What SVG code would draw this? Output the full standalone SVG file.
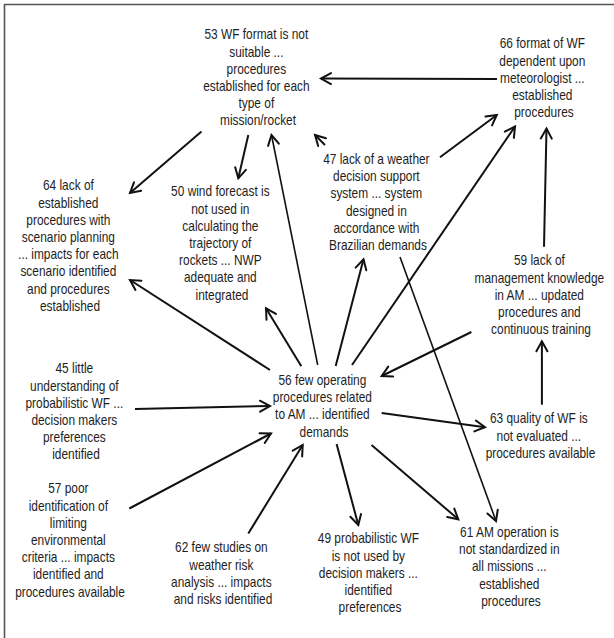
<svg xmlns="http://www.w3.org/2000/svg" width="614" height="638" viewBox="0 0 614 638">
  <defs>
    <marker id="arrow" markerUnits="userSpaceOnUse" markerWidth="16" markerHeight="16" viewBox="-12 -8 14 16" refX="0" refY="0" orient="auto">
      <path d="M-10,-5.5 L0,0 L-10,5.5" fill="none" stroke="#111" stroke-width="2" stroke-linejoin="miter" stroke-linecap="round"/>
    </marker>
    <style>
      .frame { fill: none; stroke: #555; stroke-width: 1.6; }
      .edge { fill: none; stroke: #111; stroke-width: 2; marker-end: url(#arrow); }
      .thin { stroke-width: 1.6; }
      .lbl { font-family: "Liberation Sans", Arial, sans-serif; font-size: 14px; fill: #1e1e1e; text-anchor: middle; }
    </style>
  </defs>

  <rect x="0" y="0" width="614" height="638" fill="#ffffff"/>
  <path class="frame" d="M4.5,638 V4.5 H614"/>

  <!-- connectors -->
  <g id="connectors">
    <line class="edge" x1="497" y1="79" x2="321" y2="78.5"/>
    <line class="edge" x1="201.5" y1="131.5" x2="130" y2="193"/>
    <line class="edge" x1="248.3" y1="135" x2="238.3" y2="178.3"/>
    <line class="edge thin" x1="317.7" y1="365" x2="271.5" y2="135"/>
    <line class="edge" x1="301.3" y1="366.3" x2="266" y2="308.3"/>
    <line class="edge" x1="335.7" y1="366" x2="363.5" y2="259.3"/>
    <line class="edge" x1="352" y1="365" x2="515" y2="126.5"/>
    <line class="edge" x1="270" y1="370" x2="130" y2="280"/>
    <line class="edge" x1="440" y1="157.3" x2="496.8" y2="115"/>
    <line class="edge thin" x1="400" y1="257" x2="496" y2="521"/>
    <line class="edge" x1="544" y1="246.7" x2="546.5" y2="128.5"/>
    <line class="edge" x1="471.4" y1="332" x2="381.7" y2="376"/>
    <line class="edge" x1="541.9" y1="404.7" x2="541.9" y2="341.3"/>
    <line class="edge" x1="135" y1="409" x2="270" y2="406"/>
    <line class="edge" x1="381.7" y1="413" x2="485" y2="427.3"/>
    <line class="edge" x1="129.3" y1="508.5" x2="271" y2="433.5"/>
    <line class="edge" x1="248.3" y1="533.5" x2="302.7" y2="445"/>
    <line class="edge" x1="336.6" y1="444" x2="358.3" y2="525"/>
    <line class="edge" x1="371.5" y1="445" x2="458.3" y2="519.3"/>
    <line class="edge" x1="325" y1="145" x2="315" y2="135"/>
  </g>

  <!-- nodes -->
  <g id="n53">
    <text class="lbl" transform="translate(258,0) scale(0.85,1)">
      <tspan x="0" y="39.5">53 WF format is not</tspan>
      <tspan x="0" y="56.7">suitable ...</tspan>
      <tspan x="0" y="73.9">procedures</tspan>
      <tspan x="0" y="91.1">established for each</tspan>
      <tspan x="0" y="108.3">type of</tspan>
      <tspan x="0" y="125.5">mission/rocket</tspan>
    </text>
  </g>
  <g id="n66">
    <text class="lbl" transform="translate(544,0) scale(0.85,1)">
      <tspan x="0" y="48.5">66 format of WF</tspan>
      <tspan x="0" y="65.7">dependent upon</tspan>
      <tspan x="0" y="82.9">meteorologist ...</tspan>
      <tspan x="0" y="100.1">established</tspan>
      <tspan x="0" y="117.3">procedures</tspan>
    </text>
  </g>
  <g id="n64">
    <text class="lbl" transform="translate(70,0) scale(0.85,1)">
      <tspan x="0" y="190.5">64 lack of</tspan>
      <tspan x="0" y="207.7">established</tspan>
      <tspan x="0" y="224.9">procedures with</tspan>
      <tspan x="0" y="242.1">scenario planning</tspan>
      <tspan x="0" y="259.3">... impacts for each</tspan>
      <tspan x="0" y="276.5">scenario identified</tspan>
      <tspan x="0" y="293.7">and procedures</tspan>
      <tspan x="0" y="310.9">established</tspan>
    </text>
  </g>
  <g id="n50">
    <text class="lbl" transform="translate(222,0) scale(0.85,1)">
      <tspan x="0" y="196.5">50 wind forecast is</tspan>
      <tspan x="0" y="213.7">not used in</tspan>
      <tspan x="0" y="230.9">calculating the</tspan>
      <tspan x="0" y="248.1">trajectory of</tspan>
      <tspan x="0" y="265.3">rockets ... NWP</tspan>
      <tspan x="0" y="282.5">adequate and</tspan>
      <tspan x="0" y="299.7">integrated</tspan>
    </text>
  </g>
  <g id="n47">
    <text class="lbl" transform="translate(378,0) scale(0.85,1)">
      <tspan x="0" y="164">47 lack of a weather</tspan>
      <tspan x="0" y="181.2">decision support</tspan>
      <tspan x="0" y="198.4">system ... system</tspan>
      <tspan x="0" y="215.6">designed in</tspan>
      <tspan x="0" y="232.8">accordance with</tspan>
      <tspan x="0" y="250">Brazilian demands</tspan>
    </text>
  </g>
  <g id="n59">
    <text class="lbl" transform="translate(541,0) scale(0.85,1)">
      <tspan x="0" y="265.5">59 lack of</tspan>
      <tspan x="0" y="282.7">management knowledge</tspan>
      <tspan x="0" y="299.9">in AM ... updated</tspan>
      <tspan x="0" y="317.1">procedures and</tspan>
      <tspan x="0" y="334.3">continuous training</tspan>
    </text>
  </g>
  <g id="n56">
    <text class="lbl" transform="translate(324,0) scale(0.85,1)">
      <tspan x="0" y="385">56 few operating</tspan>
      <tspan x="0" y="402.2">procedures related</tspan>
      <tspan x="0" y="419.4">to AM ... identified</tspan>
      <tspan x="0" y="436.6">demands</tspan>
    </text>
  </g>
  <g id="n45">
    <text class="lbl" transform="translate(76,0) scale(0.85,1)">
      <tspan x="0" y="373.5">45 little</tspan>
      <tspan x="0" y="390.7">understanding of</tspan>
      <tspan x="0" y="407.9">probabilistic WF ...</tspan>
      <tspan x="0" y="425.1">decision makers</tspan>
      <tspan x="0" y="442.3">preferences</tspan>
      <tspan x="0" y="459.5">identified</tspan>
    </text>
  </g>
  <g id="n63">
    <text class="lbl" transform="translate(540.5,0) scale(0.85,1)">
      <tspan x="0" y="423.5">63 quality of WF is</tspan>
      <tspan x="0" y="440.7">not evaluated ...</tspan>
      <tspan x="0" y="457.9">procedures available</tspan>
    </text>
  </g>
  <g id="n57">
    <text class="lbl" transform="translate(70,0) scale(0.85,1)">
      <tspan x="0" y="493.5">57 poor</tspan>
      <tspan x="0" y="510.7">identification of</tspan>
      <tspan x="0" y="527.9">limiting</tspan>
      <tspan x="0" y="545.1">environmental</tspan>
      <tspan x="0" y="562.3">criteria ... impacts</tspan>
      <tspan x="0" y="579.5">identified and</tspan>
      <tspan x="0" y="596.7">procedures available</tspan>
    </text>
  </g>
  <g id="n62">
    <text class="lbl" transform="translate(223,0) scale(0.85,1)">
      <tspan x="0" y="552.5">62 few studies on</tspan>
      <tspan x="0" y="569.7">weather risk</tspan>
      <tspan x="0" y="586.9">analysis ... impacts</tspan>
      <tspan x="0" y="604.1">and risks identified</tspan>
    </text>
  </g>
  <g id="n49">
    <text class="lbl" transform="translate(370,0) scale(0.85,1)">
      <tspan x="0" y="543.5">49 probabilistic WF</tspan>
      <tspan x="0" y="560.7">is not used by</tspan>
      <tspan x="0" y="577.9">decision makers ...</tspan>
      <tspan x="0" y="595.1">identified</tspan>
      <tspan x="0" y="612.3">preferences</tspan>
    </text>
  </g>
  <g id="n61">
    <text class="lbl" transform="translate(511,0) scale(0.85,1)">
      <tspan x="0" y="537">61 AM operation is</tspan>
      <tspan x="0" y="554.2">not standardized in</tspan>
      <tspan x="0" y="571.4">all missions ...</tspan>
      <tspan x="0" y="588.6">established</tspan>
      <tspan x="0" y="605.8">procedures</tspan>
    </text>
  </g>
</svg>
